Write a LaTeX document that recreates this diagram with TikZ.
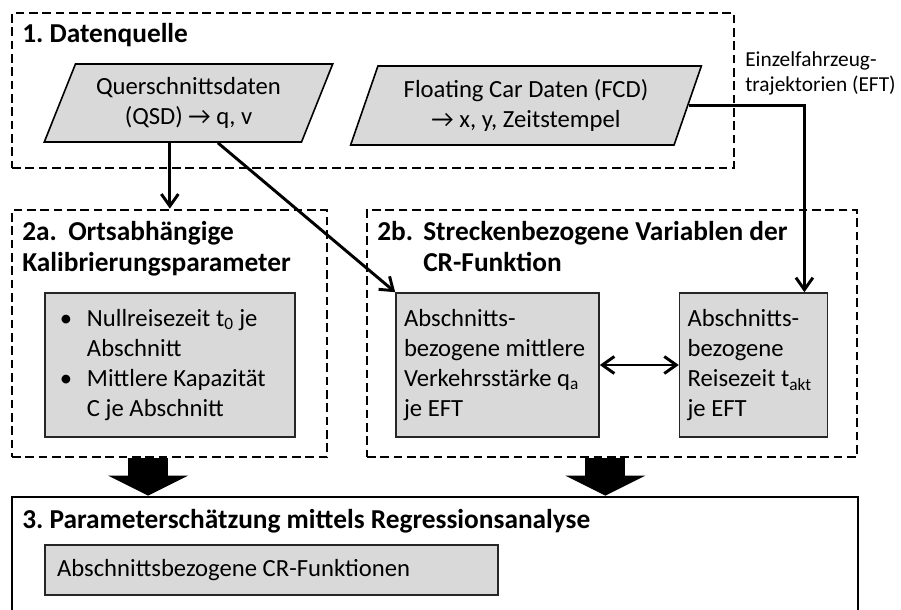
\documentclass[tikz,border=0pt]{standalone}
\usepackage{fontspec}
\setmainfont{Carlito}
\usetikzlibrary{shapes.geometric,arrows.meta,positioning}
\definecolor{boxgray}{HTML}{D9D9D9}
\newcommand{\bodyfont}{\fontsize{18.5}{22.5}\selectfont}
\frenchspacing

\begin{document}
\begin{tikzpicture}[x=0.75pt,y=-0.75pt,
        >={Straight Barb[length=9pt,width=12.75pt]},
        group/.style={draw, line width=2.1pt, dash pattern=on 6.5pt off 3.5pt, minimum height=185.25pt},
        title/.style={font=\fontsize{20.5}{24}\selectfont\bfseries, align=flush left, inner sep=0pt, anchor=base west},
        data/.style={trapezium, trapezium stretches=true, draw, line width=1.2pt, fill=boxgray, align=center, font=\bodyfont},
        ibox/.style={draw=black!85, line width=1.2pt, fill=boxgray, minimum height=108pt, inner sep=0pt, align=flush left, font=\bodyfont},
        conn/.style={line width=2.2pt, ->},
        bigarrow/.style={line width=30pt, -{Triangle[width=60pt,length=15pt,line width=0pt]}}]
        \path[use as bounding box, clip] (0,0) rectangle (901,610);
        \node[group, minimum width=541.5pt, minimum height=116.25pt] (g1) at (373,90.5) {};
        \node[group, minimum width=236.25pt] (g2a) at (169.5,333.5) {};
        \node[group, minimum width=367.5pt] (g2b) at (612,333.5) {};
        \node[draw, line width=2.1pt, minimum width=634.5pt, minimum height=107.25pt] (g3) at (435,568.5) {};
        \node[title] (t1) at (22,43) {1. Datenquelle};
        \node[title] (t2a) at (22,272) {\makebox[34.5pt][l]{2a.}Ortsabhängige\\Kalibrierungsparameter};
        \node[title] (t2b) at (377,272) {\makebox[34.5pt][l]{2b.}Streckenbezogene Variablen der\\\hspace*{34.5pt}CR-Funktion};
        \node[title] (t3) at (22,528) {3. Parameterschätzung mittels Regressionsanalyse};
        \node[data, trapezium left angle=66, trapezium right angle=114, minimum width=216.75pt, minimum height=58.5pt] (qsd) at (188.5,103) {Querschnittsdaten\\(QSD) → q, v};
        \node[data, trapezium left angle=69, trapezium right angle=111, minimum width=264pt, minimum height=59.25pt] (fcd) at (526,105.5) {Floating Car Daten (FCD)\\→ x, y, Zeitstempel};
        \node[font=\fontsize{16}{18.75}\selectfont, align=flush left, inner sep=0pt, anchor=base west] (eft) at (745,92) {Einzelfahrzeug-\\trajektorien (EFT)};
        \node[ibox, minimum width=187.5pt, text width=165pt] (kalib) at (170,365) {\makebox[20.25pt][l]{\textbullet}Nullreisezeit t\textsubscript{0} je\\\hspace*{20.25pt}Abschnitt\\\makebox[20.25pt][l]{\textbullet}Mittlere Kapazität\\\hspace*{20.25pt}C je Abschnitt};
        \node[ibox, minimum width=152.25pt, text width=140.25pt] (qa) at (497.5,365) {Abschnitts-\\bezogene mittlere\\Verkehrsstärke q\textsubscript{a}\\je EFT};
        \node[ibox, minimum width=111pt, text width=99pt, right=59.25pt of qa] (takt) {Abschnitts-\\bezogene\\Reisezeit t\textsubscript{akt}\\je EFT};
        \node[ibox, minimum width=339.75pt, minimum height=37.5pt, text width=321.75pt] (crf) at (271.5,570) {Abschnittsbezogene CR-Funktionen};
        \draw[conn] ([xshift=-14pt]qsd.south) -- ([xshift=-14pt]qsd.south |- g2a.north);
        \draw[conn] ([xshift=22pt]qsd.south) -- (qa.north west);
        \draw[conn] (fcd.east) -| ([xshift=-18pt]takt.north east);
        \draw[conn, <->] (qa.east) -- (takt.west);
        \draw[bigarrow] ([xshift=-16pt]g2a.south) -- ([xshift=-16pt]g2a.south |- g3.north);
        \draw[bigarrow] ([xshift=-5pt]g2b.south) -- ([xshift=-5pt]g2b.south |- g3.north);
    \end{tikzpicture}
\end{document}
